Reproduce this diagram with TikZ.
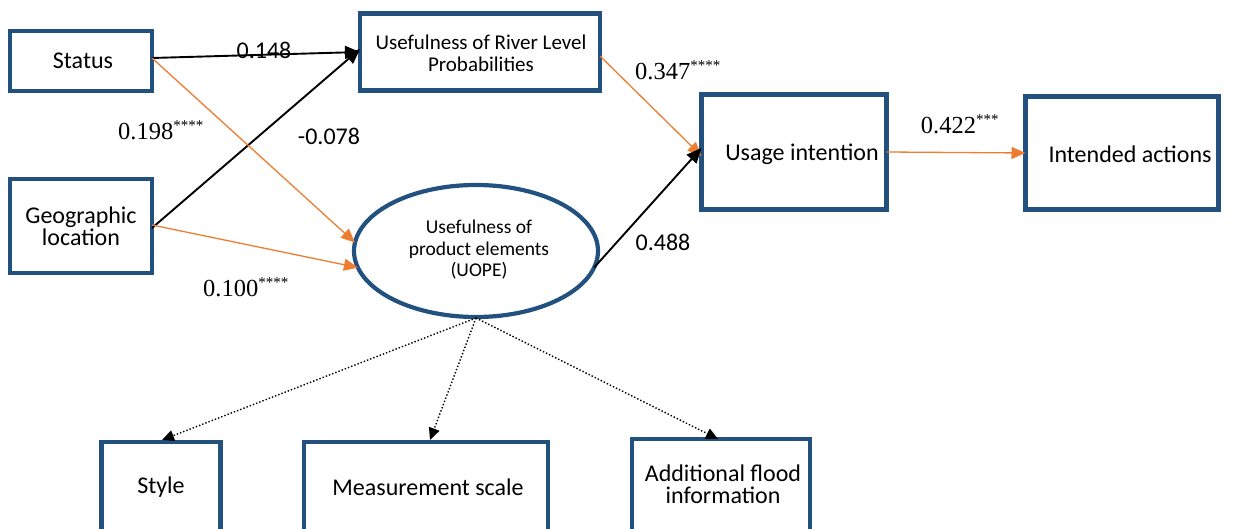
\documentclass[tikz,border=0pt]{standalone}
\usepackage{fontspec}
\setmainfont{Carlito}
\newfontfamily\numserif{Liberation Serif}
\usetikzlibrary{arrows.meta,shapes.geometric}
\definecolor{boxblue}{HTML}{22507F}
\definecolor{arrorange}{HTML}{ED7D31}
\tikzset{
  x=1pt,y=-1pt,
  boxnode/.style={draw=boxblue,line width=4.2pt,rectangle,align=center,inner sep=0pt,outer sep=0pt,font=\fontsize{24}{26}\selectfont},
  blackarr/.style={draw=black,line width=1.9pt,-{Triangle[length=15pt,width=13pt]}},
  orangearr/.style={draw=arrorange,line width=1.3pt,-{Triangle[length=14pt,width=12pt]}},
  dotarr/.style={draw=black,line width=1.4pt,dotted,-{Triangle[length=12pt,width=11pt]}},
  sanslabel/.style={font=\fontsize{24}{26}\selectfont,inner sep=0pt},
  seriflabel/.style={font=\numserif\fontsize{24.5}{26}\selectfont,inner sep=0pt},
  txt/.style={font=\fontsize{24}{22}\selectfont,align=center,inner sep=0pt},
}
\newcommand{\stars}[1]{\textsuperscript{\fontsize{15}{15}\selectfont #1}}
\begin{document}
\begin{tikzpicture}
\useasboundingbox (0,0) rectangle (1237,529);
\clip (0,0) rectangle (1237,529);
\node[boxnode,minimum width=142pt,minimum height=60pt] (st) at (81,61) {};
\node[txt] (stt) at (83,61) {Status};
\node[boxnode,minimum width=142pt,minimum height=94pt] (geo) at (81,226) {};
\node[txt] (geot) at (81,226) {Geographic\\location};
\node[boxnode,minimum width=240pt,minimum height=77pt] (rlp) at (480,52) {};
\node[txt,font=\fontsize{21}{22}\selectfont] (rlpt) at (481,53) {Usefulness of River Level\\Probabilities};
\node[boxnode,minimum width=185pt,minimum height=115pt] (ui) at (794,152) {};
\node[txt] (uit) at (802,154) {Usage intention};
\node[boxnode,minimum width=193pt,minimum height=113pt] (ia) at (1122,153) {};
\node[txt] (iat) at (1130,154) {Intended actions};
\node[draw=boxblue,line width=4.2pt,ellipse,minimum width=244pt,minimum height=132pt,inner sep=0pt,outer sep=0pt] (uope) at (476,251) {};
\node[txt,font=\fontsize{19.5}{21.5}\selectfont] (uopet) at (479,250) {Usefulness of\\product elements\\(UOPE)};
\node[boxnode,minimum width=119pt,minimum height=100pt] (sty) at (161,492) {};
\node[txt] (styt) at (161,487) {Style};
\node[boxnode,minimum width=244pt,minimum height=100pt] (ms) at (426,492) {};
\node[txt] (mst) at (428,487) {Measurement scale};
\node[boxnode,minimum width=178pt,minimum height=100pt,anchor=north] (af) at (721,439) {};
\node[txt] (aft) at (723,484) {Additional flood\\information};
% connectors
\draw[blackarr] ([yshift=3pt]st.east) -- (rlp.west);
\draw[blackarr] ([yshift=-2pt]geo.east) -- ([yshift=3pt]rlp.west);
\draw[orangearr] ([yshift=3pt]st.east) -- (uope.176);
\draw[orangearr] ([yshift=1pt]geo.east) -- (uope.188);
\draw[orangearr] ([yshift=-4pt]rlp.east) -- ([yshift=-4pt]ui.west);
\draw[blackarr] (uope.352) -- ([yshift=4pt]ui.west);
\draw[orangearr] (ui.east) -- (ia.west);
\coordinate (ub) at (476,318);
\draw[dotarr] (ub) -- (162,440);
\draw[dotarr] (ub) -- (430,440);
\draw[dotarr] (ub) -- (718,439);
% labels
\node[sanslabel] (l1) at (264,50) {0.148};
\node[sanslabel] (l2) at (329,136) {-0.078};
\node[seriflabel] (l3) at (161,130) {0.198\stars{****}};
\node[seriflabel] (l4) at (246,287) {0.100\stars{****}};
\node[seriflabel] (l5) at (678,70) {0.347\stars{****}};
\node[sanslabel] (l6) at (663,242) {0.488};
\node[seriflabel] (l7) at (960,124) {0.422\stars{***}};
\end{tikzpicture}
\end{document}
